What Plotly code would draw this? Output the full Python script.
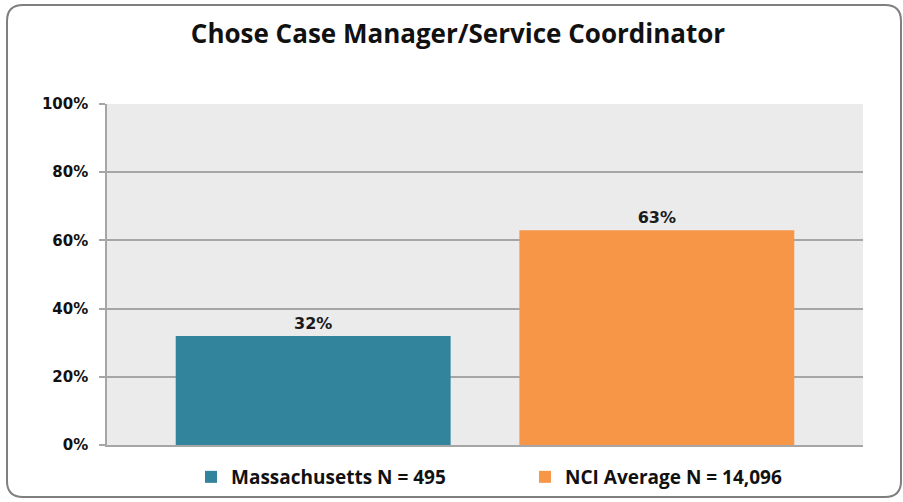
import plotly.graph_objects as go

title = "Chose Case Manager/Service Coordinator"
series_names = ["Massachusetts N = 495", "NCI Average N = 14,096"]
values = [0.32, 0.63]
colors = ["#31849B", "#F79646"]
tick_vals = [0, 0.2, 0.4, 0.6, 0.8, 1.0]
tick_text = ["0%", "20%", "40%", "60%", "80%", "100%"]

W, H = 903, 502
ML, MR, MT, MB = 107, 40, 104, 57
pw, ph = W - ML - MR, H - MT - MB

def px(x):
    return (x - ML) / pw

def py(y):
    return (H - MB - y) / ph

fig = go.Figure()
for i, (name, v, c) in enumerate(zip(series_names, values, colors)):
    fig.add_trace(go.Bar(
        x=[i], y=[v], name=name, width=[0.8],
        marker=dict(color=c, line=dict(width=0)),
        text=[f"{round(v*100)}%"], textposition="outside",
        textfont=dict(family="DejaVu Sans", size=16, color="#1a1a1a", weight="bold"),
        cliponaxis=False,
    ))

# rounded frame
x0, y0, x1, y1, r = 7, 5, 901, 497, 16
X0, X1 = px(x0), px(x1)
Y0, Y1 = py(y0), py(y1)
rx, ry = r / pw, r / ph
path = (f"M {X0+rx},{Y0} L {X1-rx},{Y0} Q {X1},{Y0} {X1},{Y0-ry} "
        f"L {X1},{Y1+ry} Q {X1},{Y1} {X1-rx},{Y1} "
        f"L {X0+rx},{Y1} Q {X0},{Y1} {X0},{Y1+ry} "
        f"L {X0},{Y0-ry} Q {X0},{Y0} {X0+rx},{Y0} Z")

fig.update_layout(
    width=W, height=H,
    margin=dict(l=ML, r=MR, t=MT, b=MB, autoexpand=False),
    paper_bgcolor="white", plot_bgcolor="#EBEBEB",
    barmode="overlay",
    title=dict(text=title, x=px(458), xref="paper", xanchor="center", y=1 - 34/H, yanchor="middle",
               font=dict(family="Open Sans", size=26, color="#111111", weight="bold")),
    showlegend=True,
    legend=dict(orientation="h", x=px(191), xanchor="left", y=py(477), yanchor="middle",
                font=dict(family="Open Sans", size=19, color="#111111", weight="bold"),
                entrywidth=289, entrywidthmode="pixels", traceorder="normal",
                bgcolor="rgba(0,0,0,0)"),
    shapes=[dict(type="path", xref="paper", yref="paper", path=path,
                 line=dict(color="#7F7F7F", width=2), layer="above")],
    bargap=0.2,
)
fig.update_xaxes(range=[-0.6, 1.6], showticklabels=False, showgrid=False, zeroline=False,
                 showline=True, linecolor="#A6A6A6", linewidth=2, ticks="", fixedrange=True)
fig.update_yaxes(range=[0, 1], tickvals=tick_vals, ticktext=tick_text,
                 showgrid=True, gridcolor="#A6A6A6", gridwidth=1.5, zeroline=False,
                 showline=True, linecolor="#A6A6A6", linewidth=1.5,
                 ticks="outside", ticklen=6, tickcolor="#A6A6A6", tickwidth=1.5,
                 tickfont=dict(family="DejaVu Sans", size=15, color="#111111", weight="bold"),
                 ticklabelstandoff=8)

fig.write_html("out.html", config={"displayModeBar": False},
               post_script="document.body.style.margin='0';document.body.style.overflow='hidden';")
